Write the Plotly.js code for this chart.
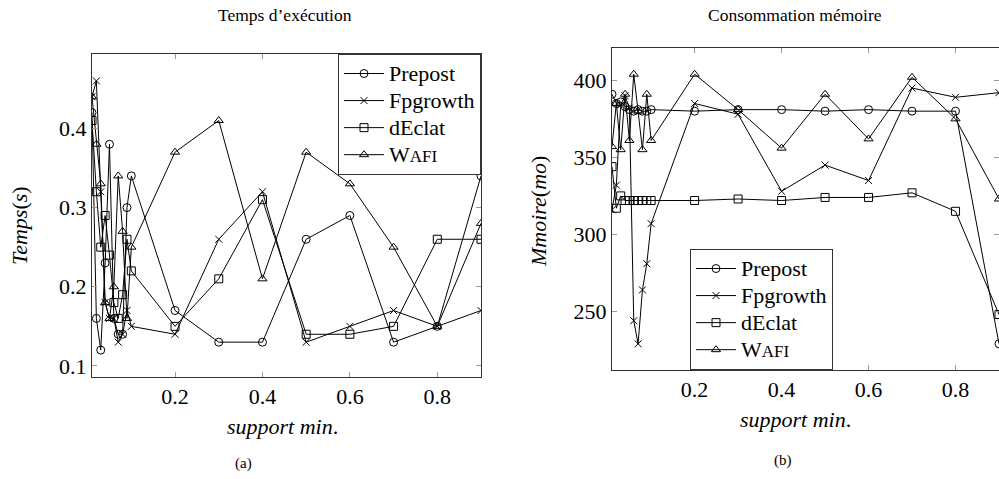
<!DOCTYPE html>
<html>
<head>
<meta charset="utf-8">
<script src="https://cdn.plot.ly/plotly-3.0.1.min.js"></script>
<style>html,body{margin:0;padding:0;background:#fff;}#chart{width:999px;height:479px;}</style>
</head>
<body>
<div id="chart"></div>
<script>
// ---- data ----
const support = [0.01,0.02,0.03,0.04,0.05,0.06,0.07,0.08,0.09,0.1,0.2,0.3,0.4,0.5,0.6,0.7,0.8,0.9];
const seriesNames = ["Prepost","Fpgrowth","dEclat","WAFI"];

// (a) execution time (s)
const timePrepost  = [0.42,0.16,0.12,0.23,0.38,0.16,0.14,0.14,0.30,0.34,0.17,0.13,0.13,0.26,0.29,0.13,0.15,0.34];
const timeFpgrowth = [0.44,0.46,0.32,0.18,0.16,0.16,0.13,0.14,0.17,0.15,0.14,0.26,0.32,0.13,0.15,0.17,0.15,0.17];
const timeDEclat   = [0.41,0.32,0.25,0.29,0.24,0.18,0.16,0.19,0.26,0.22,0.15,0.21,0.31,0.14,0.14,0.15,0.26,0.26];
const timeWafi     = [0.44,0.38,0.33,0.18,0.16,0.20,0.34,0.27,0.16,0.25,0.37,0.41,0.21,0.37,0.33,0.25,0.15,0.28];

// (b) memory (mo)
const memPrepost  = [391,385,386,383,381,380,381,380,380,381,380,381,381,380,381,380,380,229];
const memFpgrowth = [316,332,384,390,382,244,229,264,281,307,385,378,328,345,335,395,389,392];
const memDEclat   = [344,317,325,322,322,322,322,322,322,322,322,323,322,324,324,327,315,248];
const memWafi     = [357,385,355,391,361,404,380,355,391,361,404,381,356,391,362,402,375,323];

const yTicksTime = [0.1,0.2,0.3,0.4];
const yTicksMem = [250,300,350,400];
const xTicks = [0.2,0.4,0.6,0.8];

// ---- layout helpers ----
const W = 999, H = 479;
const px = x => x / W;
const py = y => 1 - y / H;
const FONT = "Liberation Serif";

// legend label: big glyphs, small-caps for WAFI
function legendLabel(n) {
  let t = n;
  if (n === "WAFI") t = "W<span style='font-size:17px'>AFI</span>";
  return "<span style='font-size:22px'>" + t + "</span>";
}

const symbols = ["circle-open","x-thin-open","square-open","triangle-up-open"];
const sizes = [8,7,8,8];

const timeData = [timePrepost, timeFpgrowth, timeDEclat, timeWafi];
const memData = [memPrepost, memFpgrowth, memDEclat, memWafi];

const traces = [];
timeData.forEach((ys, i) => traces.push({
  x: support, y: ys, type: "scatter", mode: "lines+markers", name: legendLabel(seriesNames[i]),
  xaxis: "x", yaxis: "y", legend: "legend",
  line: {color: "#000", width: 1},
  marker: {symbol: symbols[i], size: sizes[i], color: "#000", line: {color: "#000", width: 1}}
}));
memData.forEach((ys, i) => traces.push({
  x: support, y: ys, type: "scatter", mode: "lines+markers", name: legendLabel(seriesNames[i]),
  xaxis: "x2", yaxis: "y2", legend: "legend2",
  line: {color: "#000", width: 1},
  marker: {symbol: symbols[i], size: sizes[i], color: "#000", line: {color: "#000", width: 1}}
}));

const axisCommon = {
  showgrid: false, zeroline: false, showline: true, linecolor: "#333", linewidth: 1,
  mirror: "allticks", ticks: "inside", ticklen: 5, tickcolor: "#999", tickwidth: 1,
  tickfont: {family: FONT, size: 22, color: "#000"}, fixedrange: true
};

const legendCommon = {
  bgcolor: "#fff", bordercolor: "#333", borderwidth: 1,
  font: {family: FONT, size: 18.5, color: "#000"},
  tracegroupgap: 0, itemwidth: 40
};

function ann(text, x, y, size, extra) {
  return Object.assign({text: text, x: px(x), y: py(y), xref: "paper", yref: "paper",
    xanchor: "center", yanchor: "middle", showarrow: false,
    font: {family: FONT, size: size, color: "#000"}}, extra || {});
}

const layout = {
  width: W, height: H,
  margin: {l: 0, r: 0, t: 0, b: 0},
  paper_bgcolor: "#fff", plot_bgcolor: "#fff",
  showlegend: true,
  xaxis: Object.assign({}, axisCommon, {domain: [px(92), px(481)], range: [0.01, 0.9],
    tickvals: xTicks, ticktext: xTicks.map(String), anchor: "y"}),
  yaxis: Object.assign({}, axisCommon, {domain: [py(377), py(54)], range: [0.086, 0.494],
    tickvals: yTicksTime, ticktext: yTicksTime.map(String), anchor: "x"}),
  xaxis2: Object.assign({}, axisCommon, {domain: [px(612), 1], range: [0.01, 0.9],
    tickvals: xTicks, ticktext: xTicks.map(String), anchor: "y2"}),
  yaxis2: Object.assign({}, axisCommon, {domain: [py(370), py(48)], range: [212, 421],
    tickvals: yTicksMem, ticktext: yTicksMem.map(String), anchor: "x2"}),
  legend: Object.assign({}, legendCommon, {x: px(481), xanchor: "right", y: py(54), yanchor: "top"}),
  legend2: Object.assign({}, legendCommon, {x: px(690), xanchor: "left", y: py(370), yanchor: "bottom"}),
  annotations: [
    ann("Temps d’exécution", 285, 15, 17.5),
    ann("Consommation mémoire", 795, 15, 17.5),
    ann("<i>support min</i>.", 282, 426, 22),
    ann("<i>support min</i>.", 795, 419, 22),
    ann("<i>Temps</i>(<i>s</i>)", 19, 226, 22, {textangle: -90}),
    ann("<i>Mmoire</i>(<i>mo</i>)", 538, 212, 22, {textangle: -90}),
    ann("(a)", 243, 463, 15),
    ann("(b)", 783, 460, 15)
  ]
};

Plotly.newPlot("chart", traces, layout, {displayModeBar: false, staticPlot: true});
</script>
</body>
</html>
